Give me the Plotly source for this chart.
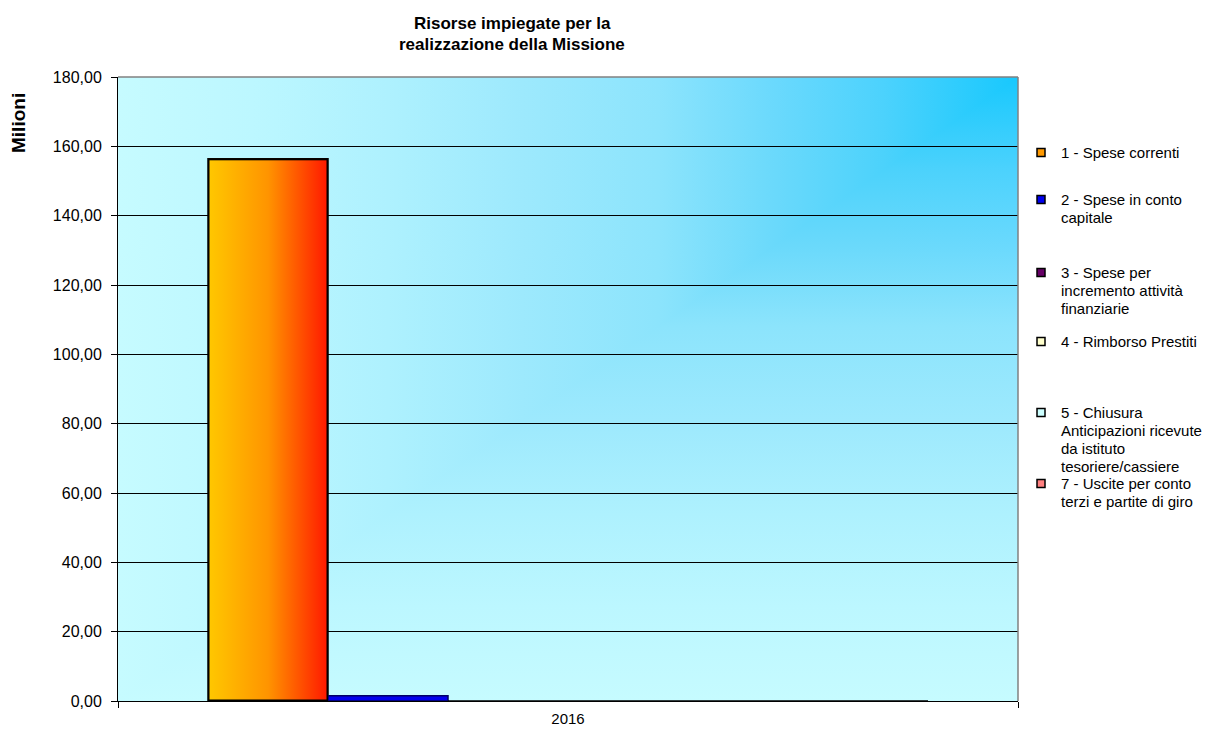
import plotly.graph_objects as go
from urllib.parse import quote

# ---- data -------------------------------------------------------------
categories = ["2016"]
series_names = [
    "1 - Spese correnti",
    "2 - Spese in conto<br>capitale",
    "3 - Spese per<br>incremento attività<br>finanziarie",
    "4 - Rimborso Prestiti",
    "5 - Chiusura<br>Anticipazioni ricevute<br>da istituto<br>tesoriere/cassiere",
    "7 - Uscite per conto<br>terzi e partite di giro",
]
spese_correnti = [156.4]
spese_conto_capitale = [1.55]
spese_attivita_finanziarie = [0.0]
rimborso_prestiti = [0.0]
chiusura_anticipazioni = [0.0]
uscite_conto_terzi = [0.0]
series_values = [
    spese_correnti,
    spese_conto_capitale,
    spese_attivita_finanziarie,
    rimborso_prestiti,
    chiusura_anticipazioni,
    uscite_conto_terzi,
]
y_ticks = [0, 20, 40, 60, 80, 100, 120, 140, 160, 180]

# ---- styling ----------------------------------------------------------
series_colors = ["#ff9900", "#0000ee", "#660066", "#ffffcc", "#ccffff", "#ff8080"]
series_lines = ["#000000", "#000066", "#000000", "#000000", "#000000", "#000000"]
FONT = "Liberation Sans, Arial, sans-serif"

W, H = 1209, 731
ML, MR, MT, MB = 118, 191, 77, 30
PW, PH = W - ML - MR, H - MT - MB

n = len(series_values)
bar_w = 0.8 / n
offsets = [-0.4 + i * bar_w for i in range(n)]

fig = go.Figure()

for i, (name, vals) in enumerate(zip(series_names, series_values)):
    fig.add_trace(go.Bar(
        x=categories, y=vals, name=name, legendgroup=f"s{i}",
        width=bar_w, offset=offsets[i], showlegend=False,
        marker=dict(color=series_colors[i],
                    line=dict(color=series_lines[i], width=1.5)),
    ))
    # legend swatch for the series
    fig.add_trace(go.Scatter(
        x=[None], y=[None], mode="markers",
        name=f'<span style="font-size:15px">{name}</span>',
        legendgroup=f"s{i}",
        legend="legend" if i == 0 else f"legend{i + 1}",
        marker=dict(symbol="square", size=8, color=series_colors[i],
                    line=dict(color="#000000", width=1.5)),
        hoverinfo="skip",
    ))

# plot-area background: gradient spreading from the top-right corner
# (horizontal and vertical ramps combined with "lighten" give the
# rectangular corner shape)
ramp = (
    "<stop offset='0' stop-color='#18c8fd'/>"
    "<stop offset='0.15' stop-color='#4cd2fb'/>"
    "<stop offset='0.27' stop-color='#6ad9fb'/>"
    "<stop offset='0.40' stop-color='#8ce4fc'/>"
    "<stop offset='0.55' stop-color='#9de9fd'/>"
    "<stop offset='0.70' stop-color='#aef1fe'/>"
    "<stop offset='0.85' stop-color='#bcf7ff'/>"
    "<stop offset='1' stop-color='#c6fbff'/>"
)
bg_svg = (
    "<svg xmlns='http://www.w3.org/2000/svg' width='900' height='624' "
    "viewBox='0 0 900 624' preserveAspectRatio='none'><defs>"
    "<linearGradient id='h' x1='1' y1='0' x2='0' y2='0'>" + ramp + "</linearGradient>"
    "<linearGradient id='v' x1='0' y1='0' x2='0' y2='1'>" + ramp + "</linearGradient>"
    "</defs>"
    "<rect width='900' height='624' fill='url(#h)'/>"
    "<rect width='900' height='624' fill='url(#v)' style='mix-blend-mode:lighten'/>"
    "</svg>"
)
images = [dict(
    source="data:image/svg+xml;charset=utf-8," + quote(bg_svg),
    xref="x domain", yref="y domain", x=0, y=1, sizex=1, sizey=1,
    xanchor="left", yanchor="top", sizing="stretch", layer="below",
)]

# horizontal orange-to-red shading of the first series bar
bar_svg = (
    "<svg xmlns='http://www.w3.org/2000/svg' width='120' height='540' "
    "viewBox='0 0 120 540' preserveAspectRatio='none'><defs>"
    "<linearGradient id='o' x1='0' y1='0' x2='1' y2='0'>"
    "<stop offset='0' stop-color='#ffc800'/>"
    "<stop offset='0.5' stop-color='#ff9400'/>"
    "<stop offset='1' stop-color='#ff1800'/>"
    "</linearGradient></defs>"
    "<rect x='0' y='0' width='120' height='540' fill='url(#o)' "
    "stroke='#000' stroke-width='3'/></svg>"
)
images.append(dict(
    source="data:image/svg+xml;charset=utf-8," + quote(bar_svg),
    xref="x", yref="y", x=offsets[0], y=spese_correnti[0],
    sizex=bar_w, sizey=spese_correnti[0],
    xanchor="left", yanchor="top", sizing="stretch", layer="above",
))

# legends: one per series, stacked down the right side
legend_rows_px = [152, 199, 272, 341, 412, 483]
legend_cfg = {}
for i, row in enumerate(legend_rows_px):
    key = "legend" if i == 0 else f"legend{i + 1}"
    legend_cfg[key] = dict(
        xref="container", yref="container",
        x=1021 / W, xanchor="left",
        y=1 - (row - 15) / H, yanchor="top",
        bgcolor="rgba(0,0,0,0)", borderwidth=0,
        font=dict(family=FONT, size=13.85, color="#000000"),
        valign="top", tracegroupgap=0,
    )

fig.update_layout(
    width=W, height=H,
    margin=dict(l=ML, r=MR, t=MT, b=MB, pad=0, autoexpand=False),
    paper_bgcolor="#ffffff", plot_bgcolor="rgba(0,0,0,0)",
    barmode="overlay", separators=",.",
    font=dict(family=FONT, size=15, color="#000000"),
    images=images,
    showlegend=True,
    **legend_cfg,
)

fig.update_xaxes(
    type="category", tickson="boundaries", ticks="outside", ticklen=6,
    tickwidth=1, tickcolor="#000000", showline=True, linecolor="#000000",
    linewidth=1, showgrid=False, zeroline=False,
    tickfont=dict(family=FONT, size=15, color="#000000"),
    ticklabelstandoff=4,
)
fig.update_yaxes(
    range=[0, 180], tickvals=y_ticks, tickformat=".2f",
    ticks="outside", ticklen=6, tickwidth=1, tickcolor="#000000",
    showline=True, linecolor="#000000", linewidth=1,
    showgrid=True, gridcolor="#000000", gridwidth=1, zeroline=False,
    tickfont=dict(family=FONT, size=16, color="#000000"),
    ticklabelstandoff=6,
)

# grey frame on the top and right of the plot area
fig.add_shape(type="line", xref="paper", yref="paper", x0=0, x1=1, y0=1, y1=1,
              line=dict(color="#808080", width=1.5), layer="above")
fig.add_shape(type="line", xref="paper", yref="paper", x0=1, x1=1, y0=0, y1=1,
              line=dict(color="#808080", width=1.5), layer="above")

# title (two lines) and axis caption
fig.add_annotation(text="<b>Risorse impiegate per la</b>", xref="paper", yref="paper",
                   x=(512 - ML) / PW, y=(H - MB - 23) / PH, showarrow=False,
                   xanchor="center", yanchor="middle",
                   font=dict(family=FONT, size=17, color="#000000"))
fig.add_annotation(text="<b>realizzazione della Missione</b>", xref="paper", yref="paper",
                   x=(512 - ML) / PW, y=(H - MB - 45) / PH, showarrow=False,
                   xanchor="center", yanchor="middle",
                   font=dict(family=FONT, size=17, color="#000000"))
fig.add_annotation(text="<b>Milioni</b>", xref="paper", yref="paper",
                   x=(19 - ML) / PW, y=(H - MB - 123) / PH, showarrow=False,
                   textangle=-90, xanchor="center", yanchor="middle",
                   font=dict(family=FONT, size=19, color="#000000"))

fig.write_html("out.html")
